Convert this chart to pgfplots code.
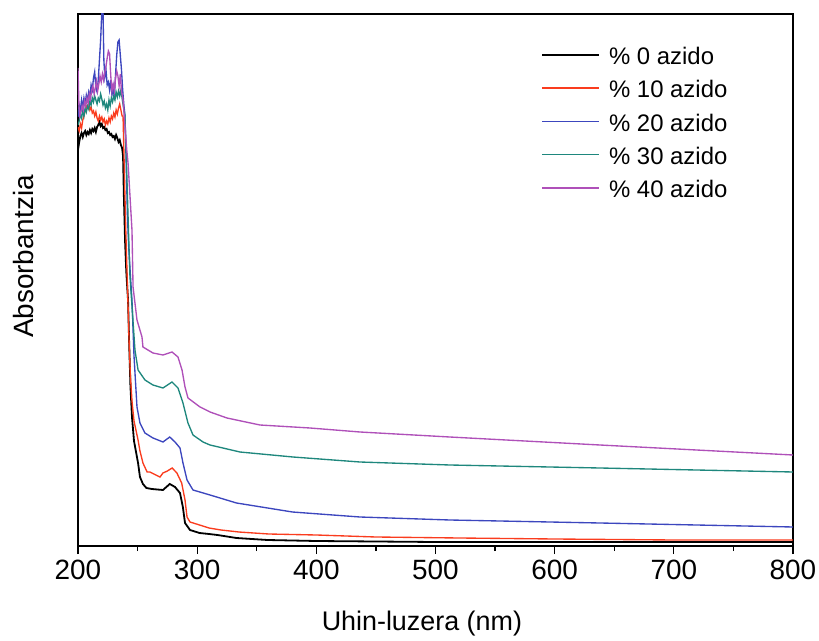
\documentclass[border=0pt]{standalone}
\usepackage{pgfplots}
\pgfplotsset{compat=1.18}
\usepackage{pgfplotstable}
\usepackage{fontspec}
\setmainfont{Liberation Sans}
\definecolor{cblack}{RGB}{0,0,0}
\definecolor{cred}{RGB}{250,60,30}
\definecolor{cblue}{RGB}{60,70,190}
\definecolor{cteal}{RGB}{30,135,125}
\definecolor{cpurp}{RGB}{175,80,185}

\pgfplotstableread{
x y
200 3.96
201 4.04
202 4.10
203 4.13
204 4.09
205 4.13
206 4.15
207 4.11
208 4.14
209 4.12
210 4.16
211 4.13
212 4.17
213 4.15
214 4.18
215 4.14
216 4.19
217 4.21
218 4.24
219 4.20
220 4.22
221 4.18
222 4.19
223 4.16
224 4.17
225 4.13
226 4.14
227 4.11
228 4.12
229 4.09
230 4.10
231 4.07
232 4.11
233 4.08
234 4.04
235 4.06
236 4.01
237 3.98
237.8 3.90
238.5 3.50
239.5 3.05
240.5 2.75
241.5 2.55
242 2.46
243 2.00
244 1.60
245.3 1.29
247 1.05
250.4 0.83
252 0.69
254.5 0.62
257.4 0.58
262 0.57
271.3 0.56
277 0.62
281.4 0.59
285.6 0.53
288 0.39
289.8 0.23
294 0.16
302 0.13
310 0.12
317 0.11
333 0.08
359 0.06
400 0.05
500 0.04
800 0.04
}\dataA

\pgfplotstableread{
x y
200 4.19
201 4.15
202 4.22
203 4.18
204 4.26
205 4.30
206 4.35
207 4.40
208 4.38
209 4.42
210 4.36
211 4.39
212 4.33
213 4.35
214 4.30
215 4.34
216 4.28
217 4.25
218 4.30
219 4.26
220 4.29
221 4.24
222 4.27
223 4.21
224 4.25
225 4.22
226 4.28
227 4.24
228 4.30
229 4.27
230 4.33
231 4.29
232 4.36
233 4.32
234 4.38
235 4.42
236 4.36
237 4.30
237.8 4.30
239 3.70
240 3.20
241 2.80
242 2.40
243 2.00
244 1.70
245.3 1.45
247 1.25
250.4 1.06
252 0.95
254.5 0.83
258 0.74
260.4 0.74
268.8 0.69
271.3 0.73
275 0.75
279 0.78
283 0.73
287 0.63
289.8 0.46
291.5 0.29
294 0.24
302 0.21
310 0.18
320 0.16
335 0.14
360 0.12
400 0.11
450 0.09
520 0.08
600 0.07
700 0.06
800 0.06
}\dataB

\pgfplotstableread{
x y
200 4.29
201 4.41
202 4.36
203 4.46
204 4.38
205 4.48
206 4.42
207 4.51
208 4.46
209 4.54
210 4.49
211 4.61
212 4.56
213 4.68
214 4.74
215 4.58
216 4.54
217 4.66
218 4.86
219 5.06
220 5.35
221 5.35
221.7 4.86
222.5 4.69
223.5 4.76
224.5 4.61
225.5 4.64
226.5 4.56
227.5 4.66
228.5 4.51
229.5 4.58
230.5 4.49
231.5 4.71
232.5 4.91
233.5 5.04
234.5 5.06
235.5 4.91
236.5 4.76
237.5 4.56
238.5 4.41
239.4 4.31
240.5 3.80
241.5 3.30
242.5 3.00
244 2.70
245.3 2.46
247 1.90
249.5 1.39
252 1.23
256.2 1.13
262.9 1.08
271.3 1.04
277 1.09
281.4 1.04
285.6 0.98
288.1 0.83
291.5 0.66
296.5 0.56
310.8 0.51
333 0.43
380 0.34
436.6 0.29
512 0.26
638 0.23
800 0.19
}\dataC

\pgfplotstableread{
x y
200 4.21
201 4.25
202 4.32
203 4.28
204 4.35
205 4.30
206 4.38
207 4.34
208 4.40
209 4.37
210 4.45
211 4.41
212 4.48
213 4.44
214 4.50
215 4.46
216 4.42
217 4.48
218 4.45
219 4.52
220 4.47
221 4.41
222 4.45
223 4.38
224 4.42
225 4.36
226 4.46
227 4.40
228 4.48
229 4.44
230 4.50
231 4.46
232 4.54
233 4.49
234 4.55
235 4.50
236 4.56
237 4.48
238 4.40
239.4 4.30
240.5 3.90
241.5 3.50
242.5 3.10
243.6 2.70
245.3 2.40
247.8 1.96
250.4 1.76
256.2 1.66
262.9 1.61
271.3 1.58
278.9 1.64
283.9 1.58
288.1 1.43
292.3 1.23
296.5 1.11
304.9 1.04
310.8 1.01
335.9 0.94
380.4 0.89
436.6 0.84
512 0.81
638 0.78
800 0.74
}\dataD

\pgfplotstableread{
x y
200 4.78
200.8 4.40
201.5 4.30
202.5 4.34
203.5 4.40
204.5 4.36
205.5 4.45
206.5 4.40
207.5 4.48
208.5 4.43
209.5 4.52
210.5 4.47
211.5 4.56
212.5 4.60
213.5 4.52
214.5 4.58
215.5 4.65
216.5 4.55
217.5 4.62
218.5 4.70
219.5 4.64
220.5 4.72
221.5 4.66
222.5 4.74
223.5 4.80
224.5 4.88
225.5 4.95
226.5 4.92
227.5 4.70
228.5 4.55
229.5 4.62
230.5 4.55
231.5 4.68
232.5 4.75
233.5 4.70
234.5 4.60
235.5 4.72
236.5 4.55
237.8 4.46
238.5 4.35
239.4 4.20
241 3.95
242 3.83
245.3 3.16
246.2 2.59
249.5 2.26
253.7 2.09
254.5 1.99
262.9 1.93
271.3 1.91
278.9 1.94
283.9 1.89
287.3 1.76
289.8 1.59
292.3 1.48
302.4 1.39
310.8 1.34
325 1.28
352.7 1.21
394.7 1.18
436.6 1.14
512 1.09
638 1.01
800 0.91
}\dataE

\begin{document}
\begin{tikzpicture}
\begin{axis}[
  scale only axis,
  width=715bp, height=532bp,
  xmin=200, xmax=800, ymin=0, ymax=5.32,
  xtick={200,300,...,800},
  minor x tick num=1,
  ytick=\empty,
  xtick pos=bottom,
  tick align=outside,
  major tick length=8bp,
  minor tick length=5bp,
  axis line style={line width=1.6bp},
  every tick/.style={black, line width=1.3bp},
  /pgf/number format/assume math mode=true,
  tick label style={font=\fontsize{28}{32}\selectfont},
  xticklabel style={yshift=-2bp},
  xlabel={Uhin-luzera (nm)},
  ylabel={Absorbantzia},
  xlabel style={font=\fontsize{27}{31}\selectfont, at={(axis description cs:0.481,-0.122)}, anchor=north, inner sep=0pt},
  ylabel style={font=\fontsize{28}{32}\selectfont, at={(axis description cs:-0.0615,0.544)}, anchor=south, inner sep=0pt},
  legend style={draw=none, fill=none, at={(axis cs:588.6,4.99)}, anchor=north west,
     inner sep=0pt, font=\fontsize{24}{28}\selectfont, row sep=14.5bp,
     nodes={inner sep=0pt}},
  legend cell align=left,
  legend image code/.code={\draw[#1] (0bp,2bp) -- (57bp,2bp);},
  legend columns=1,
  every axis plot/.append style={line width=1.35bp, sharp plot, line join=miter},
]
\addplot[cblack, line width=1.8bp] table[x=x,y=y] {\dataA};
\addlegendentry{\hspace{9bp}\% 0 azido}
\addplot[cred] table[x=x,y=y] {\dataB};
\addlegendentry{\hspace{9bp}\% 10 azido}
\addplot[cblue] table[x=x,y=y] {\dataC};
\addlegendentry{\hspace{9bp}\% 20 azido}
\addplot[cteal] table[x=x,y=y] {\dataD};
\addlegendentry{\hspace{9bp}\% 30 azido}
\addplot[cpurp] table[x=x,y=y] {\dataE};
\addlegendentry{\hspace{9bp}\% 40 azido}
\end{axis}
\pgfresetboundingbox
\useasboundingbox (-78bp,-95bp) rectangle (741bp,546bp);
\end{tikzpicture}
\end{document}
